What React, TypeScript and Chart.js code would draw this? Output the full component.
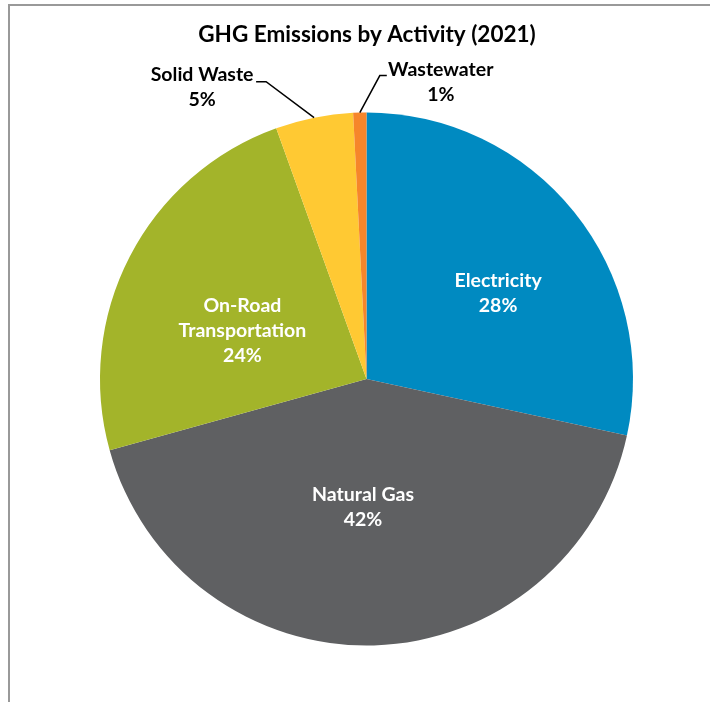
import React, { useEffect, useRef } from "react";
import { Chart, ArcElement, PieController } from "chart.js";

Chart.register(ArcElement, PieController);

const chartTitle = "GHG Emissions by Activity (2021)";
const categories = ["Electricity", "Natural Gas", "On-Road Transportation", "Solid Waste", "Wastewater"];
const labelLines = [["Electricity"], ["Natural Gas"], ["On-Road", "Transportation"], ["Solid Waste"], ["Wastewater"]];
const values = [28.4, 42.3, 23.8, 4.7, 0.8];
const colors = ["#008AC1", "#5F6062", "#A3B42A", "#FFC933", "#F6862A"];

// label layout (style, not data)
const FONT = "bold 19.5px Lato, 'Open Sans', sans-serif";
const TITLE_FONT = "bold 22.5px Lato, 'Open Sans', sans-serif";
const LINE_H = 25;
const INSIDE = [
  { rf: 0.59, da: 5.7 },
  { rf: 0.48, da: 3.2 },
  { rf: 0.5, da: -6 },
];
const OUTSIDE: Record<number, { elbow: [number, number]; end: [number, number]; text: [number, number] }> = {
  3: { elbow: [-48, -36], end: [-58, -36], text: [-112, -30] },
  4: { elbow: [20, -37], end: [27, -37], text: [81, -30] },
};

const labelPlugin = {
  id: "pieLabels",
  afterDatasetsDraw(chart: any) {
    const ctx = chart.ctx as CanvasRenderingContext2D;
    const meta = chart.getDatasetMeta(0);
    const total = values.reduce((a, b) => a + b, 0);
    ctx.save();
    ctx.font = FONT;
    ctx.textAlign = "center";
    ctx.textBaseline = "middle";
    meta.data.forEach((arc: any, i: number) => {
      const { x, y, startAngle, endAngle, outerRadius } = arc.getProps(
        ["x", "y", "startAngle", "endAngle", "outerRadius"],
        true
      );
      const mid = (startAngle + endAngle) / 2;
      const pct = Math.round((values[i] / total) * 100) + "%";
      const lines = [...labelLines[i], pct];
      if (INSIDE[i]) {
        const a = mid + (INSIDE[i].da * Math.PI) / 180;
        const r = outerRadius * INSIDE[i].rf;
        const cx = x + Math.cos(a) * r;
        const cy = y + Math.sin(a) * r;
        ctx.fillStyle = "#FFFFFF";
        lines.forEach((t, k) => {
          ctx.fillText(t, cx, cy + (k - (lines.length - 1) / 2) * LINE_H);
        });
      } else {
        const o = OUTSIDE[i];
        const rx = x + Math.cos(mid) * outerRadius;
        const ry = y + Math.sin(mid) * outerRadius;
        ctx.strokeStyle = "#000000";
        ctx.lineWidth = 1.5;
        ctx.beginPath();
        ctx.moveTo(rx, ry);
        ctx.lineTo(rx + o.elbow[0], ry + o.elbow[1]);
        ctx.lineTo(rx + o.end[0], ry + o.end[1]);
        ctx.stroke();
        const cx = rx + o.text[0];
        const cy = ry + o.text[1];
        ctx.fillStyle = "#000000";
        lines.forEach((t, k) => {
          ctx.fillText(t, cx, cy + (k - (lines.length - 1) / 2) * LINE_H);
        });
      }
    });
    // title
    ctx.fillStyle = "#000000";
    ctx.font = TITLE_FONT;
    ctx.fillText(chartTitle, 367, 35);
    ctx.restore();
  },
};

export default function App() {
  const ref = useRef<HTMLCanvasElement | null>(null);
  useEffect(() => {
    if (!ref.current) return;
    const chart = new Chart(ref.current, {
      type: "pie",
      data: {
        labels: categories,
        datasets: [
          {
            data: values,
            backgroundColor: colors,
            borderWidth: 0,
            hoverOffset: 0,
          },
        ],
      },
      options: {
        responsive: false,
        animation: false,
        events: [],
        layout: { padding: { left: 100, top: 112, right: 77, bottom: 56 } },
        plugins: { legend: { display: false }, tooltip: { enabled: false } },
      },
      plugins: [labelPlugin],
    });
    return () => chart.destroy();
  }, []);
  return (
    <div style={{ position: "absolute", left: 0, top: 0, width: 710, height: 702, background: "#fff", overflow: "hidden" }}>
      <div style={{ position: "absolute", left: 8, top: 4, width: 702, height: 2, background: "#999" }} />
      <div style={{ position: "absolute", left: 8, top: 4, width: 2, height: 698, background: "#999" }} />
      <canvas ref={ref} width={710} height={702} style={{ position: "absolute", left: 0, top: 0, width: 710, height: 702 }} />
    </div>
  );
}
